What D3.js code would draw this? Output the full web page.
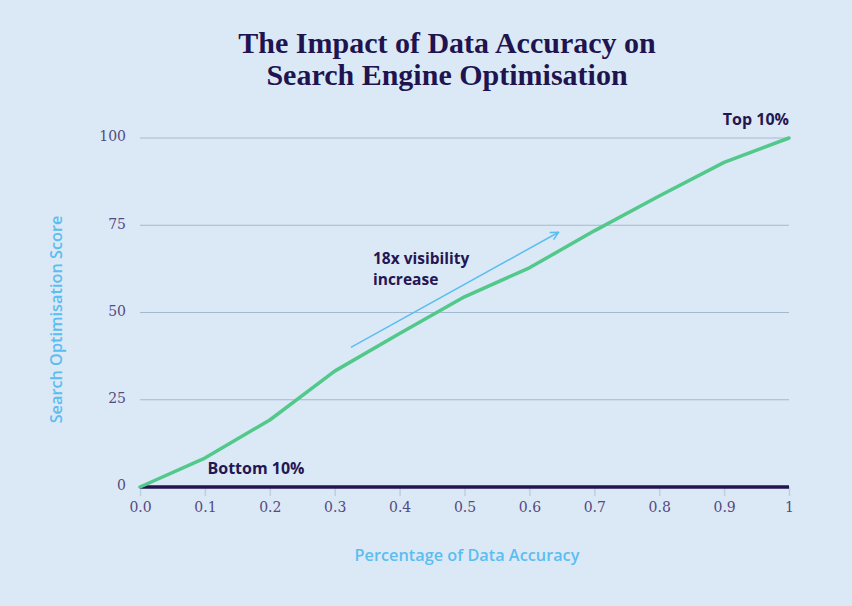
<!DOCTYPE html>
<html><head><meta charset="utf-8">
<script src="https://cdn.jsdelivr.net/npm/d3@7"></script>
<style>
html,body{margin:0;padding:0;background:#dbe9f6;}
svg{display:block;}
</style></head>
<body>
<svg id="chart" width="852" height="606"></svg>
<script>
// ---- data ----
const accuracy = [0.0, 0.1, 0.2, 0.3, 0.4, 0.5, 0.6, 0.7, 0.8, 0.9, 1.0];
const topScores = [0, 8.3, 19.2, 33.2, 44, 54.5, 62.8, 73.4, 83.4, 93, 100];
const bottomScores = [0, 0, 0, 0, 0, 0, 0, 0, 0, 0, 0];
const xTicks = [0.0, 0.1, 0.2, 0.3, 0.4, 0.5, 0.6, 0.7, 0.8, 0.9, 1.0];
const xTickLabels = ["0.0","0.1","0.2","0.3","0.4","0.5","0.6","0.7","0.8","0.9","1"];
const yTicks = [0, 25, 50, 75, 100];
const arrowFrom = [0.325, 40];
const arrowTo = [0.645, 73];

const svg = d3.select("#chart");
const W = 852, H = 606;
svg.append("rect").attr("width", W).attr("height", H).attr("fill", "#dbe9f6");

const x = d3.scaleLinear().domain([0, 1]).range([140, 789]);
const y = d3.scaleLinear().domain([0, 100]).range([487, 138]);

// title
const title = svg.append("text").attr("text-anchor", "middle")
  .attr("font-family", "'Liberation Serif', serif").attr("font-weight", "bold")
  .attr("font-size", 30).attr("fill", "#1f1450");
title.append("tspan").attr("x", 447).attr("y", 53).text("The Impact of Data Accuracy on");
title.append("tspan").attr("x", 447).attr("y", 85).text("Search Engine Optimisation");

// gridlines
svg.append("g").selectAll("line").data(yTicks.filter(d => d > 0)).join("line")
  .attr("x1", x(0)).attr("x2", x(1))
  .attr("y1", d => y(d)).attr("y2", d => y(d))
  .attr("stroke", "#a3b9cf").attr("stroke-width", 1);

// y axis labels
const yAxis = d3.axisLeft(y).tickValues(yTicks).tickSize(0).tickPadding(14);
const gy = svg.append("g").attr("transform", `translate(${x(0)},0)`).call(yAxis);
gy.select(".domain").remove();
gy.selectAll("text").attr("font-family", "'DejaVu Serif', serif").attr("font-size", 14)
  .attr("fill", "#544a80").attr("dy", "0.2em");

// x axis
const xAxis = d3.axisBottom(x).tickValues(xTicks).tickFormat((d, i) => xTickLabels[i])
  .tickSize(9).tickPadding(6);
const gx = svg.append("g").attr("transform", `translate(0,${y(0)})`).call(xAxis);
gx.select(".domain").remove();
gx.selectAll("line").attr("stroke", "#bcd0e3").attr("stroke-width", 1.5);
gx.selectAll("text").attr("font-family", "'DejaVu Serif', serif").attr("font-size", 14)
  .attr("fill", "#544a80");

const line = d3.line().x((d, i) => x(accuracy[i])).y(d => y(d));

// bottom 10% line
svg.append("path").datum(bottomScores).attr("d", line)
  .attr("fill", "none").attr("stroke", "#231650").attr("stroke-width", 3.4);

// top 10% line
svg.append("path").datum(topScores).attr("d", line)
  .attr("fill", "none").attr("stroke", "#52c98b").attr("stroke-width", 3.5)
  .attr("stroke-linejoin", "round").attr("stroke-linecap", "round");

// arrow
const defs = svg.append("defs");
defs.append("marker").attr("id", "arr").attr("viewBox", "0 0 10 10")
  .attr("refX", 9).attr("refY", 5).attr("markerWidth", 10).attr("markerHeight", 10)
  .attr("markerUnits", "userSpaceOnUse").attr("orient", "auto")
  .append("path").attr("d", "M1,1 L9,5 L1,9").attr("fill", "none")
  .attr("stroke", "#5bbdf0").attr("stroke-width", 1.5);
svg.append("line")
  .attr("x1", x(arrowFrom[0])).attr("y1", y(arrowFrom[1]))
  .attr("x2", x(arrowTo[0])).attr("y2", y(arrowTo[1]))
  .attr("stroke", "#5bbdf0").attr("stroke-width", 1.5).attr("marker-end", "url(#arr)");

// annotations
const lab = (t, xx, yy, anchor, fs) => svg.append("text").attr("x", xx).attr("y", yy)
  .attr("text-anchor", anchor || "start")
  .attr("font-family", "'Open Sans', sans-serif").attr("font-weight", "bold")
  .attr("font-size", fs || 16).attr("fill", "#241652").text(t);
lab("Top 10%", x(1), y(100) - 13, "end");
lab("Bottom 10%", x(0.104), y(0) - 13);
lab("18x visibility", x(0.359), y(64.0), "start", 15.5);
lab("increase", x(0.359), y(58.0), "start", 15.5);

// axis titles
svg.append("text").attr("transform", `translate(62,${(y(0)+y(100))/2 + 7}) rotate(-90)`)
  .attr("text-anchor", "middle").attr("font-family", "'Open Sans', sans-serif")
  .attr("font-weight", "600").attr("font-size", 16.3).attr("fill", "#5bbdf0")
  .text("Search Optimisation Score");
svg.append("text").attr("x", 467).attr("y", 561).attr("text-anchor", "middle")
  .attr("font-family", "'Open Sans', sans-serif").attr("font-weight", "600")
  .attr("font-size", 16.3).attr("fill", "#5bbdf0").text("Percentage of Data Accuracy");
</script>
</body></html>
